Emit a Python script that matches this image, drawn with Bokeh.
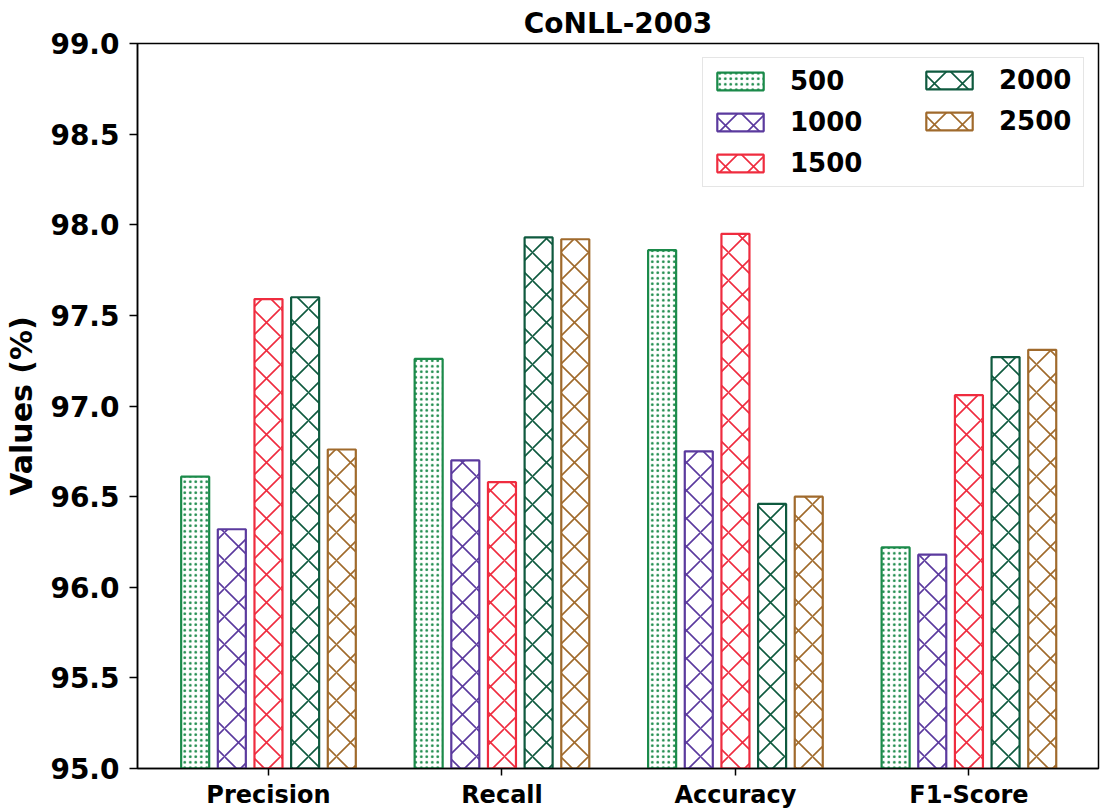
from bokeh.plotting import figure
from bokeh.models import ColumnDataSource, Range1d, FixedTicker, Legend, LegendItem, PrintfTickFormatter
from bokeh.transform import dodge
from bokeh.embed import file_html
from bokeh.resources import INLINE

categories = ["Precision", "Recall", "Accuracy", "F1-Score"]
series_names = ["500", "1000", "1500", "2000", "2500"]
s500 = [96.61, 97.26, 97.86, 96.22]
s1000 = [96.32, 96.70, 96.75, 96.18]
s1500 = [97.59, 96.58, 97.95, 97.06]
s2000 = [97.60, 97.93, 96.46, 97.27]
s2500 = [96.76, 97.92, 96.50, 97.31]
y_ticks = [95.0, 95.5, 96.0, 96.5, 97.0, 97.5, 98.0, 98.5, 99.0]

colors = ["#1b8a4a", "#5b3a9e", "#ef2c3f", "#0f5a3f", "#a06a2c"]
patterns = [".", "x", "x", "x", "x"]
scales = [5.5, 28, 28, 28, 28]
weights = [3.0, 1.6, 1.6, 1.6, 1.6]
offsets = [-0.314, -0.157, 0.0, 0.157, 0.314]

FONT = "DejaVu Sans"

src = ColumnDataSource(dict(
    x=list(range(len(categories))),
    s500=s500, s1000=s1000, s1500=s1500, s2000=s2000, s2500=s2500,
))

p = figure(width=1100, height=811, output_backend="svg", toolbar_location=None,
           x_range=Range1d(-0.561, 3.555), y_range=Range1d(95.0, 99.0),
           min_border_left=137, min_border_right=2, min_border_top=42, min_border_bottom=40)

p.title.text = "CoNLL-2003"
p.title.align = "center"
p.title.text_font = FONT
p.title.text_font_size = "28px"
p.title.text_font_style = "bold"
p.title.text_color = "black"
p.title.standoff = 8
p.title.offset = 0

renderers = []
cols = ["s500", "s1000", "s1500", "s2000", "s2500"]
for i, c in enumerate(cols):
    r = p.vbar(x=dodge("x", offsets[i], range=p.x_range), top=c, bottom=95.0, width=0.12,
               source=src, fill_color="white", fill_alpha=0.0,
               line_color=colors[i], line_width=2.2,
               hatch_pattern=patterns[i], hatch_color=colors[i],
               hatch_scale=scales[i], hatch_weight=weights[i])
    renderers.append(r)

p.xgrid.visible = False
p.ygrid.visible = False
p.outline_line_color = "black"
p.outline_line_width = 1.5

p.xaxis.ticker = FixedTicker(ticks=list(range(len(categories))))
p.xaxis.major_label_overrides = {i: c for i, c in enumerate(categories)}
p.xaxis.major_label_text_font = FONT
p.xaxis.major_label_text_font_size = "24px"
p.xaxis.major_label_text_font_style = "bold"
p.xaxis.major_label_text_color = "black"
p.xaxis.major_label_text_line_height = 0.9
p.xaxis.major_tick_out = 7
p.xaxis.major_tick_in = 0
p.xaxis.minor_tick_line_color = None
p.xaxis.major_label_standoff = 5
p.xaxis.axis_line_width = 1.5
p.xaxis.major_tick_line_width = 1.5

p.yaxis.ticker = FixedTicker(ticks=y_ticks)
p.yaxis.formatter = PrintfTickFormatter(format="%.1f")
p.yaxis.major_label_text_font = FONT
p.yaxis.major_label_text_font_size = "28px"
p.yaxis.major_label_text_font_style = "bold"
p.yaxis.major_label_text_color = "black"
p.yaxis.major_tick_out = 8
p.yaxis.major_tick_in = 0
p.yaxis.minor_tick_line_color = None
p.yaxis.major_label_standoff = 10
p.yaxis.axis_label = "Values (%)"
p.yaxis.axis_label_text_font = FONT
p.yaxis.axis_label_text_font_size = "30px"
p.yaxis.axis_label_text_font_style = "bold"
p.yaxis.axis_label_text_color = "black"
p.yaxis.axis_label_standoff = 8
p.yaxis.axis_line_width = 1.5
p.yaxis.major_tick_line_width = 1.5


def style_legend(leg):
    leg.label_text_font = FONT
    leg.label_text_font_size = "26px"
    leg.label_text_font_style = "bold"
    leg.label_text_color = "black"
    leg.glyph_width = 58
    leg.glyph_height = 22
    leg.label_standoff = 21
    leg.label_height = 30
    leg.spacing = 11
    leg.padding = 8
    leg.margin = 14
    leg.location = "top_right"


leg1 = Legend(items=[LegendItem(label=series_names[i], renderers=[renderers[i]]) for i in range(3)])
style_legend(leg1)
leg1.label_width = 285
leg1.border_line_color = "#cccccc"
leg1.border_line_width = 1.5
leg1.background_fill_color = "white"
leg1.background_fill_alpha = 1.0

leg2 = Legend(items=[LegendItem(label=series_names[i], renderers=[renderers[i]]) for i in range(3, 5)])
style_legend(leg2)
leg2.label_width = 77
leg2.border_line_alpha = 0.0
leg2.background_fill_alpha = 0.0

p.add_layout(leg1, "center")
p.add_layout(leg2, "center")

open("out.html", "w").write(file_html(p, INLINE))
